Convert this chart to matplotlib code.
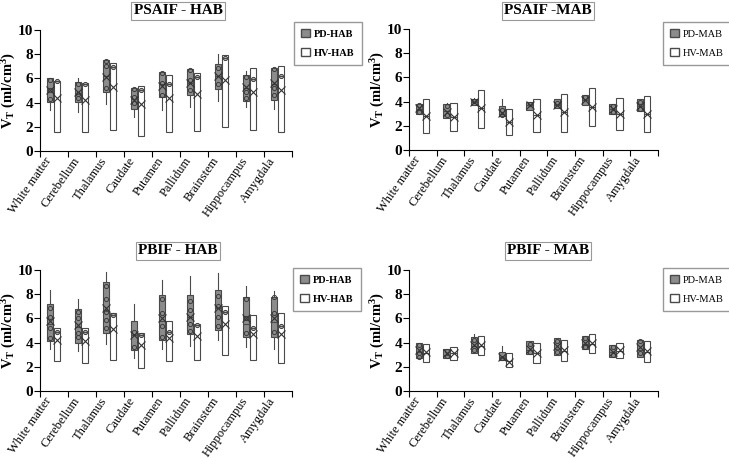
import matplotlib
matplotlib.use("Agg")
import matplotlib.pyplot as plt
from matplotlib.patches import Patch

plt.rcParams["font.family"] = ["Liberation Serif", "DejaVu Serif"]
plt.rcParams["mathtext.fontset"] = "custom"
plt.rcParams["mathtext.rm"] = "Liberation Serif:bold"
plt.rcParams["mathtext.it"] = "Liberation Serif:bold"
plt.rcParams["mathtext.bf"] = "Liberation Serif:bold"

regions = ["White matter", "Cerebellum", "Thalamus", "Caudate", "Putamen",
           "Pallidum", "Brainstem", "Hippocampus", "Amygdala"]

# PD boxes: whisker low, q1, median, q3, whisker high, mean
psaif_hab_pd = [(3.4, 4.05, 4.9, 6.05, 6.05, 5.0), (3.25, 4.05, 4.75, 5.7, 6.05, 4.85),
                (3.9, 4.85, 6.2, 7.5, 7.5, 6.15), (2.8, 3.45, 4.3, 5.18, 5.18, 4.25),
                (3.4, 4.45, 5.5, 6.5, 6.5, 5.4), (3.6, 4.65, 5.6, 6.75, 6.75, 5.65),
                (4.13, 5.1, 6.2, 7.15, 8.05, 6.2), (3.6, 4.1, 5.2, 6.25, 6.65, 5.25),
                (3.45, 4.25, 5.5, 6.85, 6.85, 5.6)]
psaif_hab_pd_pts = [[5.9, 5.05, 4.3], [5.5, 4.75, 4.35], [7.45, 7.0, 5.2], [5.1, 4.5, 3.95],
                    [6.45, 5.6, 4.6], [6.7, 5.9, 5.0], [6.9, 5.5], [6.1, 4.9, 4.35],
                    [6.75, 5.2, 4.6]]
# HV boxes: q1, median, q3, mean
psaif_hab_hv = [(1.6, 5.75, 5.8, 4.4), (1.55, 5.5, 5.6, 4.2), (1.7, 6.95, 7.25, 5.3),
                (1.2, 5.0, 5.4, 3.9), (1.55, 5.5, 6.25, 4.4), (1.65, 6.15, 6.45, 4.75),
                (2.0, 7.65, 7.9, 5.85), (1.7, 5.95, 6.85, 4.9), (1.6, 6.2, 7.05, 5.0)]

psaif_mab_pd = [(2.95, 2.95, 3.4, 3.8, 3.8, 3.45), (2.65, 2.65, 3.2, 3.8, 3.85, 3.15),
                (3.75, 3.75, 3.95, 4.2, 4.3, 3.95), (2.75, 2.8, 3.0, 3.65, 4.2, 3.05),
                (3.3, 3.3, 3.7, 4.0, 4.0, 3.7), (3.5, 3.5, 3.75, 4.2, 4.2, 3.75),
                (3.75, 3.75, 4.1, 4.55, 4.55, 4.15), (2.95, 2.95, 3.4, 3.8, 3.8, 3.4),
                (3.2, 3.2, 3.6, 4.2, 4.2, 3.6)]
psaif_mab_pd_pts = [[3.7, 3.15], [3.6, 2.9], [4.05], [3.3, 2.9], [3.8], [3.9], [4.35],
                    [3.6, 3.15], [4.0, 3.4]]
psaif_mab_hv = [(1.4, 2.85, 4.25, 2.85), (1.6, 2.75, 3.9, 2.75), (1.85, 3.45, 4.95, 3.45),
                (1.2, 2.3, 3.35, 2.3), (1.45, 2.9, 4.2, 2.9), (1.5, 3.1, 4.65, 3.1),
                (1.95, 3.55, 5.15, 3.55), (1.65, 3.0, 4.3, 3.0), (1.5, 3.0, 4.45, 3.0)]

pbif_hab_pd = [(3.5, 4.1, 5.5, 7.2, 8.35, 5.75), (3.3, 4.0, 5.3, 6.75, 7.6, 5.45),
               (3.9, 4.8, 6.6, 9.0, 9.85, 6.85), (2.7, 3.4, 4.65, 5.75, 7.15, 4.65),
               (3.5, 4.2, 5.8, 7.95, 9.15, 6.0), (3.7, 4.7, 6.1, 7.95, 9.5, 6.15),
               (4.2, 5.05, 6.9, 8.35, 9.75, 6.9), (3.6, 4.5, 5.5, 7.8, 8.65, 6.0),
               (3.5, 4.5, 5.7, 7.8, 8.3, 6.0)]
pbif_hab_pd_pts = [[6.85, 6.15, 5.2, 4.35], [6.55, 6.0, 4.8, 4.5], [8.65, 7.6, 6.55, 5.9, 5.2],
                   [4.9, 3.65], [7.6, 6.45, 5.35, 4.5], [7.45, 6.7, 5.5, 4.95],
                   [7.85, 7.0, 6.15, 5.35], [7.6, 6.0, 4.8], [7.75, 6.45, 4.85]]
pbif_hab_hv = [(2.45, 4.9, 5.2, 4.2), (2.35, 4.9, 5.2, 4.1), (2.55, 6.3, 6.45, 5.1),
               (1.9, 4.6, 4.8, 3.8), (2.5, 4.9, 5.75, 4.35), (2.6, 5.45, 5.5, 4.55),
               (2.95, 6.55, 7.05, 5.5), (2.55, 5.2, 6.25, 4.7), (2.35, 5.4, 6.45, 4.7)]

pbif_mab_pd = [(2.7, 2.7, 3.2, 3.95, 3.95, 3.4), (2.75, 2.75, 3.0, 3.45, 3.45, 3.1),
               (3.15, 3.15, 3.7, 4.45, 4.75, 3.8), (2.6, 2.6, 2.8, 3.25, 3.7, 2.85),
               (3.05, 3.05, 3.4, 4.1, 4.1, 3.45), (2.95, 2.95, 3.5, 4.35, 4.35, 3.75),
               (3.45, 3.45, 3.9, 4.55, 4.55, 3.95), (2.85, 2.85, 3.2, 3.8, 3.8, 3.25),
               (2.85, 2.85, 3.4, 4.25, 4.25, 3.6)]
pbif_mab_pd_pts = [[3.8, 3.15, 2.85], [3.3, 2.9], [4.25, 3.4], [2.7], [3.9, 3.2],
                   [4.15, 3.2], [4.4, 3.6], [3.6, 3.0], [4.1, 3.1]]
pbif_mab_hv = [(2.4, 3.15, 3.85, 3.2), (2.55, 3.1, 3.65, 3.1), (3.0, 3.75, 4.55, 3.8),
               (2.0, 2.45, 3.1, 2.4), (2.35, 3.1, 3.95, 3.15), (2.5, 3.3, 4.25, 3.35),
               (3.15, 3.9, 4.7, 3.95), (2.7, 3.3, 3.95, 3.35), (2.4, 3.25, 4.15, 3.3)]

PD_FILL = "#8c8c8c"
EDGE = "#4a4a4a"

fig = plt.figure(figsize=(7.29, 4.58), dpi=100)


def draw_panel(rect, pd_box, pd_pts, hv_box, hv_dots, title, group, bold_legend, title_xy, legend_xy):
    ax = fig.add_axes(rect)
    pd_stats = [dict(whislo=lo, q1=q1, med=med, q3=q3, whishi=hi, mean=mean, fliers=[])
                for lo, q1, med, q3, hi, mean in pd_box]
    hv_stats = [dict(whislo=q1, q1=q1, med=med, q3=q3, whishi=q3, mean=mean, fliers=[])
                for q1, med, q3, mean in hv_box]
    pd_pos = [i + 0.36 for i in range(len(regions))]
    hv_pos = [i + 0.61 for i in range(len(regions))]
    common = dict(widths=0.23, patch_artist=True, showmeans=True, showcaps=False,
                  manage_ticks=False,
                  whiskerprops=dict(color=EDGE, linewidth=0.8),
                  medianprops=dict(color=EDGE, linewidth=0.8),
                  meanprops=dict(marker="x", markeredgecolor="#333333", markersize=5.5,
                                 markeredgewidth=0.8))
    ax.bxp(pd_stats, positions=pd_pos,
           boxprops=dict(facecolor=PD_FILL, edgecolor=EDGE, linewidth=0.8), **common)
    ax.bxp(hv_stats, positions=hv_pos,
           boxprops=dict(facecolor="white", edgecolor=EDGE, linewidth=0.8), **common)
    for p, pts in zip(pd_pos, pd_pts):
        ax.plot([p] * len(pts), pts, "o", mfc="none", mec="#3c3c3c", ms=3, mew=0.7)
    if hv_dots:
        ax.plot(hv_pos, [b[1] for b in hv_box], "o", mfc="#bbbbbb", mec="#3c3c3c", ms=3, mew=0.7)

    ax.set_xlim(0, len(regions))
    ax.set_ylim(0, 10)
    ax.spines["top"].set_visible(False)
    ax.spines["right"].set_visible(False)
    ax.set_xticks(range(len(regions) + 1))
    ax.set_xticklabels([])
    ax.set_xticks([i + 0.5 for i in range(len(regions))], minor=True)
    ax.set_xticklabels(regions, minor=True, rotation=55, ha="right", va="top", fontsize=9)
    ax.tick_params(axis="x", which="minor", length=0, pad=3)
    ax.tick_params(axis="x", which="major", length=4, direction="out")
    ax.set_yticks(range(0, 11, 2))
    ax.set_yticklabels([str(v) for v in range(0, 11, 2)], fontsize=11, fontweight="bold")
    ax.tick_params(axis="y", length=4, direction="out", pad=1)
    ax.set_ylabel(r"V$_{\mathrm{T}}$ (ml/cm$^{\mathrm{3}}$)", fontsize=10.5, fontweight="bold")
    ax.yaxis.set_label_coords(-22 / 252, 0.5)

    fig.text(title_xy[0], title_xy[1], title, ha="center", va="center", fontsize=11,
             fontweight="bold",
             bbox=dict(boxstyle="square,pad=0.15", fc="white", ec="#999999", lw=0.8))
    handles = [Patch(facecolor=PD_FILL, edgecolor=EDGE, label="PD-" + group),
               Patch(facecolor="white", edgecolor=EDGE, label="HV-" + group)]
    ax.legend(handles=handles, loc="upper left", bbox_to_anchor=legend_xy,
              bbox_transform=fig.transFigure, fancybox=False, edgecolor="#999999",
              prop=dict(size=7.5, weight="bold" if bold_legend else "normal"),
              handlelength=0.8, handleheight=0.8, handletextpad=0.4,
              labelspacing=0.9, borderpad=0.7, borderaxespad=0, framealpha=1)
    return ax


W, H = 729, 458
draw_panel([40 / W, 1 - 151 / H, 252 / W, 121 / H], psaif_hab_pd, psaif_hab_pd_pts, psaif_hab_hv,
           True, "PSAIF - HAB", "HAB", True, (178 / W, 1 - 11 / H), (294 / W, 1 - 22 / H))
draw_panel([409 / W, 1 - 150 / H, 249 / W, 121 / H], psaif_mab_pd, psaif_mab_pd_pts, psaif_mab_hv,
           False, "PSAIF -MAB", "MAB", False, (548 / W, 1 - 11 / H), (663 / W, 1 - 22 / H))
draw_panel([40 / W, 1 - 391 / H, 252 / W, 121 / H], pbif_hab_pd, pbif_hab_pd_pts, pbif_hab_hv,
           True, "PBIF - HAB", "HAB", True, (178 / W, 1 - 251 / H), (293 / W, 1 - 268 / H))
draw_panel([409 / W, 1 - 391 / H, 249 / W, 121 / H], pbif_mab_pd, pbif_mab_pd_pts, pbif_mab_hv,
           False, "PBIF - MAB", "MAB", False, (548 / W, 1 - 251 / H), (663 / W, 1 - 268 / H))

fig.savefig("out.png", dpi=100)
